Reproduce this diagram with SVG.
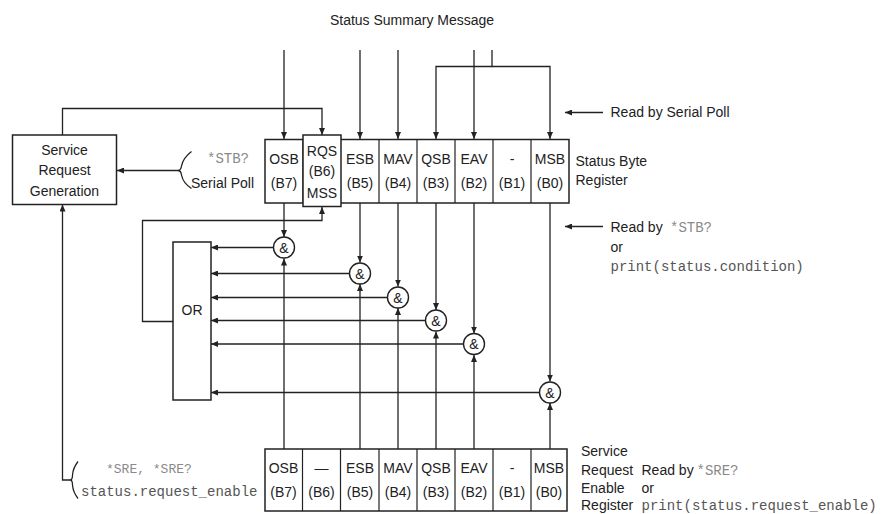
<svg xmlns="http://www.w3.org/2000/svg" width="885" height="514" viewBox="0 0 885 514">
<style>
text{font-family:"Liberation Sans",Arial,sans-serif;font-size:14px;fill:#222}
.c{text-anchor:middle}
.m{font-family:"Liberation Mono","Courier New",monospace;fill:#555}
.g{fill:#8a8a8a}
.box{fill:#fff;stroke:#222;stroke-width:1.5}
.cell{fill:none;stroke:#222;stroke-width:1.2}
.ln{fill:none;stroke:#222;stroke-width:1.3}
.gate{fill:#fff;stroke:#222;stroke-width:1.4}
</style>
<defs>
<marker id="a" markerUnits="userSpaceOnUse" markerWidth="8" markerHeight="6" refX="7" refY="3" orient="auto">
<path d="M0,0 L7,3 L0,6 z" fill="#222"/>
</marker>
</defs>

<text class="c" x="412" y="25">Status Summary Message</text>

<g id="connectors" class="ln" marker-end="url(#a)">
<!-- incoming from top -->
<path d="M284,50 V139"/>
<path d="M360,50 V139"/>
<path d="M398,50 V139"/>
<path d="M474,50 V139"/>
<path d="M492,50 V66.5 H436 V139"/>
<path d="M492,66.5 H550 V139"/>
<!-- SRG feedback to RQS -->
<path d="M62.5,135 V108.5 H322 V135"/>
<!-- OR output to RQS/MSS -->
<path d="M173,321.5 H142.5 V220.5 H322 V207"/>
<!-- read arrows -->
<path d="M603,112.5 H565"/>
<path d="M603,226.5 H565"/>
<!-- serial poll to SRG -->
<path d="M180,170.5 H117"/>
<!-- enable command to SRG -->
<path d="M72,480 H62.5 V204.5"/>
<!-- status byte to gates -->
<path d="M284,203 V237"/>
<path d="M360,203 V262.5"/>
<path d="M398,203 V286.5"/>
<path d="M436,203 V310"/>
<path d="M474,203 V333.5"/>
<path d="M550,203 V381.5"/>
<!-- enable register to gates -->
<path d="M284,449 V258.5"/>
<path d="M360,449 V284"/>
<path d="M398,449 V308"/>
<path d="M436,449 V331.5"/>
<path d="M474,449 V355"/>
<path d="M550,449 V403"/>
<!-- gates to OR -->
<path d="M273.5,247.5 H211"/>
<path d="M349.5,273.5 H211"/>
<path d="M387.5,297.5 H211"/>
<path d="M425.5,320.5 H211"/>
<path d="M463.5,344 H211"/>
<path d="M539.5,392.5 H211"/>
</g>
<g id="braces" class="ln">
<path d="M191.5,151.5 Q183,158 181.5,166 Q181,170 178.5,170.5 Q181,171 181.5,175 Q183,183 191.5,188.5"/>
<path d="M78,461.5 Q73,468 72.5,475 Q72.5,479.5 70.5,480 Q72.5,480.5 72.5,485 Q73,492 78,498.5"/>
</g>

<g id="srg">
<rect class="box" x="12.5" y="135" width="104" height="69.5"/>
<text class="c" x="64.5" y="154.5">Service</text>
<text class="c" x="64.5" y="175">Request</text>
<text class="c" x="64.5" y="196">Generation</text>
</g>

<g id="serial-poll-label">
<text class="m g" x="207" y="163">*STB?</text>
<text x="191" y="187.5">Serial Poll</text>
</g>

<g id="status-byte-register">
<rect class="box" x="265" y="139.5" width="304" height="63.5"/>
<path class="cell" d="M303,139.5V203 M379,139.5V203 M417,139.5V203 M455,139.5V203 M493,139.5V203 M531,139.5V203"/>
<rect class="box" x="303" y="135" width="38" height="71.5"/>
<text class="c" x="284" y="164">OSB</text><text class="c" x="284" y="188">(B7)</text>
<text class="c" x="322" y="155.5">RQS</text><text class="c" x="322" y="176">(B6)</text><text class="c" x="322" y="197.5">MSS</text>
<text class="c" x="360" y="164">ESB</text><text class="c" x="360" y="188">(B5)</text>
<text class="c" x="398" y="164">MAV</text><text class="c" x="398" y="188">(B4)</text>
<text class="c" x="436" y="164">QSB</text><text class="c" x="436" y="188">(B3)</text>
<text class="c" x="474" y="164">EAV</text><text class="c" x="474" y="188">(B2)</text>
<text class="c" x="512" y="164">-</text><text class="c" x="512" y="188">(B1)</text>
<text class="c" x="550" y="164">MSB</text><text class="c" x="550" y="188">(B0)</text>
<text x="575.5" y="166">Status Byte</text>
<text x="575.5" y="185">Register</text>
</g>

<g id="read-labels">
<text x="610.5" y="117">Read by Serial Poll</text>
<text x="610.5" y="231.5">Read by</text>
<text class="m g" x="670" y="231.5">*STB?</text>
<text x="610.5" y="251.5">or</text>
<text class="m" x="610.5" y="270.5">print(status.condition)</text>
</g>

<g id="or-gate">
<rect class="box" x="173" y="242" width="38" height="158"/>
<text class="c" x="192" y="315">OR</text>
</g>

<g id="and-gates">
<circle class="gate" cx="284" cy="247.5" r="10.5"/><text class="c" x="284" y="252.5">&amp;</text>
<circle class="gate" cx="360" cy="273.5" r="10.5"/><text class="c" x="360" y="278.5">&amp;</text>
<circle class="gate" cx="398" cy="297.5" r="10.5"/><text class="c" x="398" y="302.5">&amp;</text>
<circle class="gate" cx="436" cy="320.5" r="10.5"/><text class="c" x="436" y="325.5">&amp;</text>
<circle class="gate" cx="474" cy="344" r="10.5"/><text class="c" x="474" y="349">&amp;</text>
<circle class="gate" cx="550" cy="392.5" r="10.5"/><text class="c" x="550" y="397.5">&amp;</text>
</g>

<g id="enable-register">
<rect class="box" x="265" y="449" width="302" height="62"/>
<path class="cell" d="M302.5,449V511 M340.5,449V511 M379,449V511 M417,449V511 M455,449V511 M493,449V511 M531,449V511"/>
<text class="c" x="283.5" y="472.5">OSB</text><text class="c" x="283.5" y="497">(B7)</text>
<text class="c" x="321.5" y="472.5">—</text><text class="c" x="321.5" y="497">(B6)</text>
<text class="c" x="360" y="472.5">ESB</text><text class="c" x="360" y="497">(B5)</text>
<text class="c" x="398" y="472.5">MAV</text><text class="c" x="398" y="497">(B4)</text>
<text class="c" x="436" y="472.5">QSB</text><text class="c" x="436" y="497">(B3)</text>
<text class="c" x="474" y="472.5">EAV</text><text class="c" x="474" y="497">(B2)</text>
<text class="c" x="512" y="472.5">-</text><text class="c" x="512" y="497">(B1)</text>
<text class="c" x="549" y="472.5">MSB</text><text class="c" x="549" y="497">(B0)</text>
<text x="581" y="455.5">Service</text>
<text x="581" y="474.5">Request</text>
<text x="581" y="492.5">Enable</text>
<text x="581" y="509.5">Register</text>
</g>

<g id="enable-labels">
<text class="m g" x="106" y="473" style="font-size:13px">*SRE, *SRE?</text>
<text class="m" x="81" y="495.5">status.request_enable</text>
<text x="641.5" y="474.5">Read by</text>
<text class="m g" x="696.5" y="474.5">*SRE?</text>
<text x="641.5" y="492.5">or</text>
<text class="m" x="641.5" y="509.5">print(status.request_enable)</text>
</g>
</svg>
